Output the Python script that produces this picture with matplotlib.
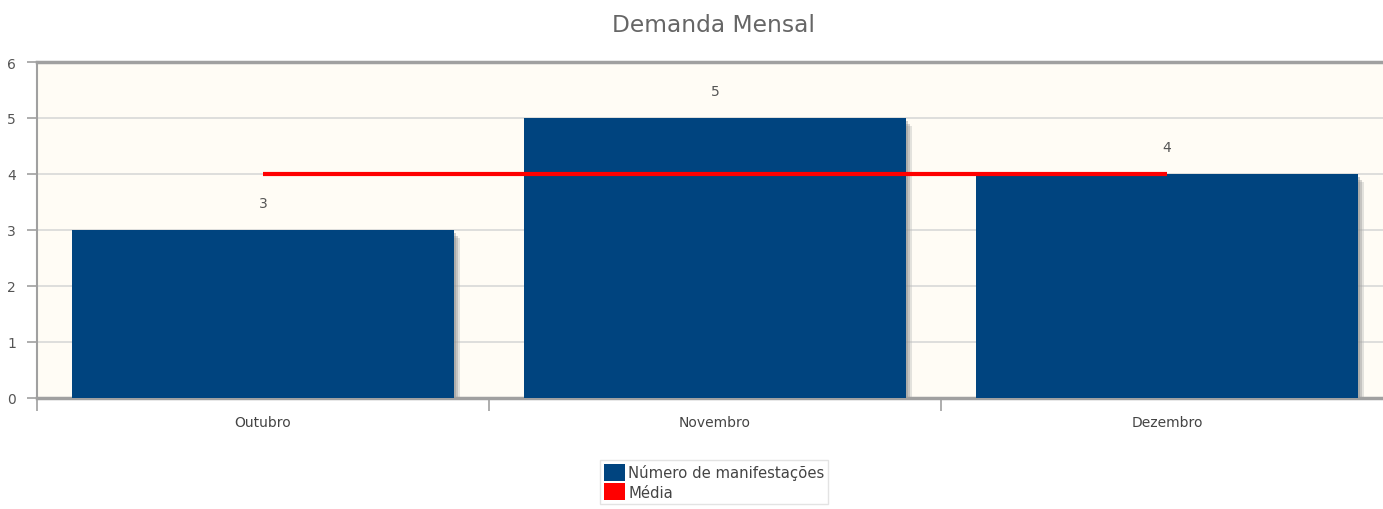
import matplotlib
matplotlib.use("Agg")
import matplotlib.pyplot as plt
from matplotlib.patches import Patch

categories = ["Outubro", "Novembro", "Dezembro"]
values = [3, 5, 4]
media = [4, 4, 4]
yticks = [0, 1, 2, 3, 4, 5, 6]

bar_color = "#00447f"
line_color = "#ff0000"
bg_color = "#fffcf5"
axis_gray = "#a0a0a0"
text_gray = "#555555"

fig = plt.figure(figsize=(13.83, 5.10), dpi=100)
ax = fig.add_axes([37/1383, 1 - 399/510, 1356/1383, 336/510])
ax.set_facecolor(bg_color)

x = list(range(len(categories)))
bw = 0.843
# shadows
ax.bar([i + 0.015 for i in x], [v - 0.15 for v in values], width=bw, color="#bbbbbb", alpha=0.4, zorder=2)
ax.bar([i + 0.010 for i in x], [v - 0.10 for v in values], width=bw, color="#999999", alpha=0.4, zorder=2)
ax.bar([i + 0.005 for i in x], [v - 0.05 for v in values], width=bw, color="#888888", alpha=0.4, zorder=2)
ax.bar(x, values, width=bw, color=bar_color, zorder=3)

ax.plot(x, media, color=line_color, lw=3, zorder=4, solid_capstyle="butt")

for i, v in enumerate(values):
    ax.text(i, v + 0.48, str(v), ha="center", va="center", fontsize=10, color=text_gray, zorder=5)

ax.set_xlim(-0.5, 2.5)
ax.set_ylim(0, 6)
ax.set_yticks(yticks)
ax.set_yticklabels([str(t) for t in yticks], fontsize=10, color=text_gray)
ax.yaxis.grid(True, color="#d8d8d8", lw=1.2, zorder=1)
ax.set_axisbelow(True)

ax.set_xticks(x)
ax.set_xticklabels(categories, fontsize=10, color="#444444")
ax.tick_params(axis="x", length=0, pad=12)
ax.set_xticks([-0.5, 0.5, 1.5, 2.5], minor=True)
ax.tick_params(axis="x", which="minor", length=9, color=axis_gray, width=1.2)
ax.tick_params(axis="y", length=7, color=axis_gray, width=1.2, pad=8)

for s in ["top", "bottom"]:
    ax.spines[s].set_color(axis_gray)
    ax.spines[s].set_linewidth(2.5)
ax.spines["left"].set_color(axis_gray)
ax.spines["left"].set_linewidth(1.5)
ax.spines["right"].set_visible(False)

fig.text(713/1383, 1 - 25/510, "Demanda Mensal", ha="center", va="center", fontsize=16.8, color="#666666")

handles = [Patch(facecolor=bar_color, edgecolor="none", label="Número de manifestações"),
           Patch(facecolor=line_color, edgecolor="none", label="Média")]
leg = fig.legend(handles=handles, loc="upper left", bbox_to_anchor=(600/1383, 1 - 461/510),
                 fontsize=10.7, frameon=True, fancybox=False, handlelength=1.4, handleheight=1.4,
                 handletextpad=0.25, borderpad=0.25, labelspacing=0.15, borderaxespad=0)
leg.get_frame().set_edgecolor("#dddddd")
leg.get_frame().set_linewidth(1)
for t in leg.get_texts():
    t.set_color("#444444")

fig.savefig("out.png", dpi=100)
